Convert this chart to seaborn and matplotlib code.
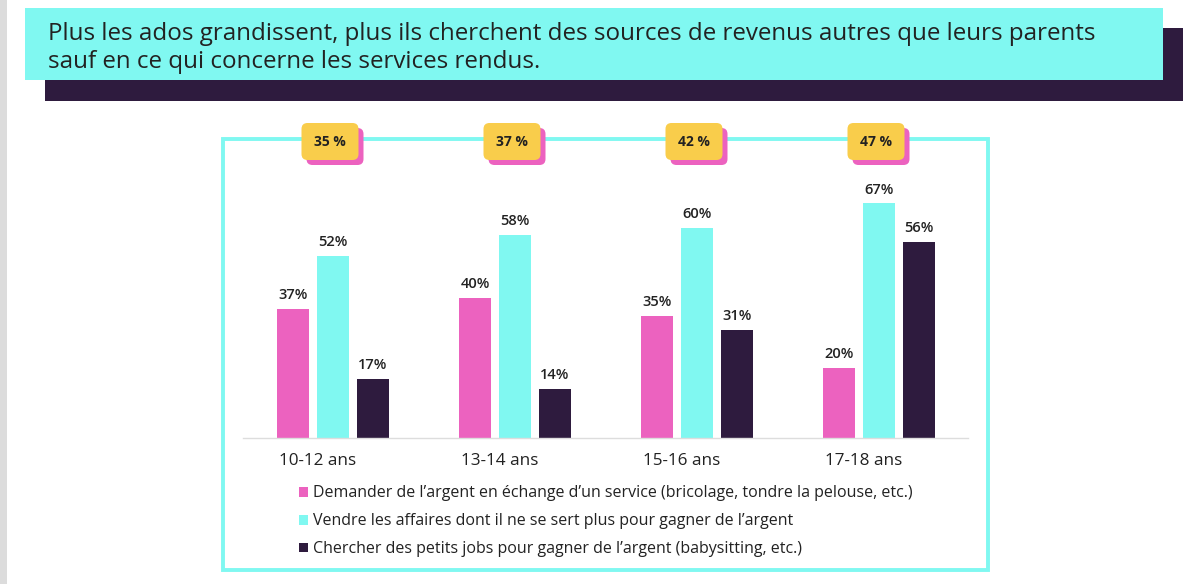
import matplotlib
matplotlib.use("Agg")
import matplotlib.pyplot as plt
import matplotlib.transforms as mtransforms
import seaborn as sns
import pandas as pd
from matplotlib.patches import Rectangle, FancyBboxPatch

# ---- data ----
groups = ["10-12 ans", "13-14 ans", "15-16 ans", "17-18 ans"]
series_names = [
    "Demander de l’argent en échange d’un service (bricolage, tondre la pelouse, etc.)",
    "Vendre les affaires dont il ne se sert plus pour gagner de l’argent",
    "Chercher des petits jobs pour gagner de l’argent (babysitting, etc.)",
]
service_vals = [37, 40, 35, 20]
vendre_vals = [52, 58, 60, 67]
jobs_vals = [17, 14, 31, 56]
badge_vals = ["35 %", "37 %", "42 %", "47 %"]
title_text = ("Plus les ados grandissent, plus ils cherchent des sources de revenus autres que leurs parents\n"
              "sauf en ce qui concerne les services rendus.")

PINK = "#ec62bf"
CYAN = "#80f8f1"
DARK = "#2e1b3e"
YELLOW = "#f9cd4b"
TXT = "#222222"

sns.set_theme(style="white")
plt.rcParams["font.family"] = ["Open Sans", "DejaVu Sans"]

df = pd.DataFrame({
    "group": groups * 3,
    "series": [series_names[0]] * 4 + [series_names[1]] * 4 + [series_names[2]] * 4,
    "value": service_vals + vendre_vals + jobs_vals,
})

W, H = 1200, 584
fig = plt.figure(figsize=(W / 100, H / 100), dpi=100)
fig.patch.set_facecolor("white")

# overlay axes in pixel coords (y down)
ov = fig.add_axes([0, 0, 1, 1], zorder=0)
ov.set_xlim(0, W)
ov.set_ylim(H, 0)
ov.axis("off")

# left gray band
ov.add_patch(Rectangle((0, 0), 7, H, facecolor="#dcdcdc", edgecolor="none"))
# title banner
ov.add_patch(Rectangle((45, 28), 1138, 73, facecolor=DARK, edgecolor="none"))
ov.add_patch(Rectangle((25, 8), 1138, 72, facecolor=CYAN, edgecolor="none"))
ov.text(48, 48, title_text, fontsize=17.4, color=TXT, va="center", ha="left",
        linespacing=1.18)
# chart frame
ov.add_patch(Rectangle((223, 139), 765, 431, facecolor="none", edgecolor=CYAN, linewidth=2.8))

# main axes
px_per_pct = 3.5
base_y = 438
top_y = 170
ax_left, ax_right = 243, 968
ax = fig.add_axes([ax_left / W, (H - base_y) / H, (ax_right - ax_left) / W, (base_y - top_y) / H], zorder=2)
ax.patch.set_alpha(0)

sns.barplot(data=df, x="group", y="value", hue="series", order=groups, hue_order=series_names,
            palette=[PINK, CYAN, DARK], width=0.66, gap=0.2, saturation=1, ax=ax,
            legend=True, linewidth=0)

g0, spacing = 333, 182
ax.set_xlim((ax_left - g0) / spacing, (ax_right - g0) / spacing)
ax.set_ylim(0, (base_y - top_y) / px_per_pct)

for cont in ax.containers:
    ax.bar_label(cont, labels=[f"{int(v)}%" for v in cont.datavalues], padding=5,
                 fontsize=10.5, color=TXT, fontweight="semibold")

for s in ["top", "left", "right"]:
    ax.spines[s].set_visible(False)
ax.spines["bottom"].set_color("#dddddd")
ax.spines["bottom"].set_linewidth(1)
ax.set_yticks([])
ax.set_xlabel("")
ax.set_ylabel("")
ax.tick_params(axis="x", length=0, pad=11, labelsize=12.3, labelcolor=TXT)
shift = mtransforms.ScaledTranslation(-15 / 100, 0, fig.dpi_scale_trans)
for lbl in ax.get_xticklabels():
    lbl.set_transform(lbl.get_transform() + shift)

handles, labels = ax.get_legend_handles_labels()
ax.legend_.remove()
leg = fig.legend(handles, labels, loc="upper left",
                 bbox_to_anchor=(285 / W, 1 - 471 / H), frameon=False,
                 handlelength=0.55, handleheight=0.55, handletextpad=0.3,
                 labelspacing=0.75, fontsize=11.5)
for t in leg.get_texts():
    t.set_color(TXT)

# badges (one per group, aligned with group centers)
for i, b in enumerate(badge_vals):
    xd, _ = ax.transData.transform((i, 0))
    cx = xd - 3
    bw, bh = 57, 37
    x0, y0 = cx - bw / 2, 123
    ov.add_patch(FancyBboxPatch((x0 + 5, y0 + 5), bw, bh, boxstyle="round,pad=0,rounding_size=6",
                                facecolor=PINK, edgecolor="none", zorder=3))
    ov.add_patch(FancyBboxPatch((x0, y0), bw, bh, boxstyle="round,pad=0,rounding_size=6",
                                facecolor=YELLOW, edgecolor="none", zorder=4))
    ov.text(cx, y0 + bh / 2, b, ha="center", va="center", fontsize=10,
            fontweight="bold", color=TXT, zorder=5)

fig.savefig("out.png", dpi=100, facecolor="white")
